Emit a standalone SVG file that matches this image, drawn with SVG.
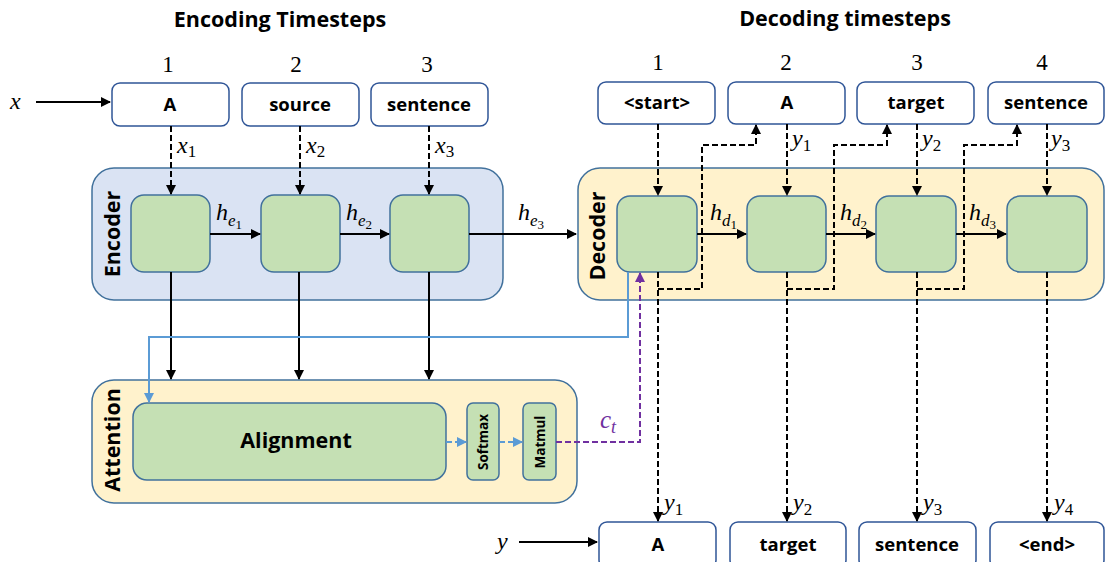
<svg xmlns="http://www.w3.org/2000/svg" width="1105" height="562" viewBox="0 0 1105 562">
  <defs>
    <marker id="ahk" viewBox="0 0 10 10" refX="9" refY="5" markerWidth="10" markerHeight="10" orient="auto" markerUnits="userSpaceOnUse">
      <path d="M0,0 L10,5 L0,10 z" fill="#000"/>
    </marker>
    <marker id="ahb" viewBox="0 0 10 10" refX="9" refY="5" markerWidth="10" markerHeight="10" orient="auto" markerUnits="userSpaceOnUse">
      <path d="M0,0 L10,5 L0,10 z" fill="#5b9bd5"/>
    </marker>
    <marker id="ahp" viewBox="0 0 10 10" refX="9" refY="5" markerWidth="10" markerHeight="10" orient="auto" markerUnits="userSpaceOnUse">
      <path d="M0,0 L10,5 L0,10 z" fill="#7030a0"/>
    </marker>
  </defs>
  <style>
    .title { font-family: "Open Sans", "Liberation Sans", sans-serif; font-weight: bold; font-size: 21.5px; fill: #000; }
    .num { font-family: "Liberation Serif", "DejaVu Serif", serif; font-size: 23px; fill: #000; }
    .tok { fill: #fff; stroke: #2f5597; stroke-width: 1.5; }
    .tokt { font-family: "Open Sans", "Liberation Sans", sans-serif; font-weight: bold; font-size: 18.5px; fill: #000; text-anchor: middle; }
    .enc { fill: #dae3f3; stroke: #41719c; stroke-width: 1.5; }
    .dec { fill: #fff2cc; stroke: #41719c; stroke-width: 1.5; }
    .cell { fill: #c5e0b4; stroke: #41719c; stroke-width: 1.5; }
    .lbl { font-family: "Open Sans", "Liberation Sans", sans-serif; font-weight: bold; font-size: 21.5px; fill: #000; text-anchor: middle; }
    .small { font-family: "Open Sans", "Liberation Sans", sans-serif; font-weight: bold; font-size: 13.5px; fill: #000; text-anchor: middle; }
    .math { font-family: "Liberation Serif", "DejaVu Serif", serif; font-style: italic; font-size: 24px; fill: #000; }
    .sub { font-size: 17px; }
    .subn { font-style: normal; font-size: 17px; }
    .subsub { font-style: normal; font-size: 13px; }
    .solid { fill: none; stroke: #000; stroke-width: 2; }
    .dash { fill: none; stroke: #000; stroke-width: 2; stroke-dasharray: 6 3; }
  </style>

  <!-- headings -->
  <text class="title" x="280" y="27" text-anchor="middle">Encoding Timesteps</text>
  <text class="title" x="845" y="26" text-anchor="middle">Decoding timesteps</text>
  <g class="num" text-anchor="middle">
    <text x="168" y="72">1</text>
    <text x="296" y="72">2</text>
    <text x="427" y="72">3</text>
    <text x="658" y="70">1</text>
    <text x="786" y="70">2</text>
    <text x="917" y="70">3</text>
    <text x="1042" y="70">4</text>
  </g>

  <!-- containers -->
  <g id="encoder">
    <rect class="enc" x="92" y="168" width="411" height="132" rx="22"/>
    <text class="lbl" transform="translate(120,234) rotate(-90)">Encoder</text>
  </g>
  <g id="decoder">
    <rect class="dec" x="578" y="168" width="526" height="132" rx="22"/>
    <text class="lbl" transform="translate(605,236) rotate(-90)">Decoder</text>
  </g>
  <g id="attention">
    <rect class="dec" x="92" y="380" width="485" height="123" rx="22"/>
    <text class="lbl" transform="translate(120,440) rotate(-90)">Attention</text>
  </g>

  <!-- source tokens -->
  <g id="src-1"><rect class="tok" x="112" y="83" width="117" height="43" rx="8"/><text class="tokt" x="170" y="111">A</text></g>
  <g id="src-2"><rect class="tok" x="242" y="83" width="117" height="43" rx="8"/><text class="tokt" x="300" y="111">source</text></g>
  <g id="src-3"><rect class="tok" x="371" y="83" width="117" height="43" rx="8"/><text class="tokt" x="429" y="111">sentence</text></g>

  <!-- decoder input tokens -->
  <g id="din-1"><rect class="tok" x="598" y="82" width="117" height="42" rx="8"/><text class="tokt" x="657" y="109">&lt;start&gt;</text></g>
  <g id="din-2"><rect class="tok" x="728" y="82" width="117" height="42" rx="8"/><text class="tokt" x="787" y="109">A</text></g>
  <g id="din-3"><rect class="tok" x="857" y="82" width="117" height="42" rx="8"/><text class="tokt" x="916" y="109">target</text></g>
  <g id="din-4"><rect class="tok" x="988" y="82" width="116" height="42" rx="8"/><text class="tokt" x="1046" y="109">sentence</text></g>

  <!-- decoder output tokens -->
  <g id="dout-1"><rect class="tok" x="599" y="522" width="117" height="46" rx="8"/><text class="tokt" x="658" y="551">A</text></g>
  <g id="dout-2"><rect class="tok" x="730" y="522" width="116" height="46" rx="8"/><text class="tokt" x="788" y="551">target</text></g>
  <g id="dout-3"><rect class="tok" x="859" y="522" width="117" height="46" rx="8"/><text class="tokt" x="917" y="551">sentence</text></g>
  <g id="dout-4"><rect class="tok" x="990" y="522" width="114" height="46" rx="8"/><text class="tokt" x="1047" y="551">&lt;end&gt;</text></g>

  <!-- encoder cells -->
  <g id="enc-1"><rect class="cell" x="131" y="195" width="79" height="77" rx="13"/></g>
  <g id="enc-2"><rect class="cell" x="261" y="195" width="79" height="77" rx="13"/></g>
  <g id="enc-3"><rect class="cell" x="390" y="195" width="79" height="77" rx="13"/></g>

  <!-- decoder cells -->
  <g id="dec-1"><rect class="cell" x="617" y="196" width="80" height="76" rx="13"/></g>
  <g id="dec-2"><rect class="cell" x="747" y="196" width="79" height="76" rx="13"/></g>
  <g id="dec-3"><rect class="cell" x="876" y="196" width="80" height="76" rx="13"/></g>
  <g id="dec-4"><rect class="cell" x="1007" y="196" width="80" height="76" rx="13"/></g>

  <!-- attention blocks -->
  <g id="alignment"><rect class="cell" x="133" y="403" width="313" height="77" rx="14"/><text class="lbl" x="296" y="448" font-size="22px">Alignment</text></g>
  <g id="softmax"><rect class="cell" x="467" y="403" width="32" height="77" rx="6"/><text class="small" transform="translate(488,442) rotate(-90)">Softmax</text></g>
  <g id="matmul"><rect class="cell" x="523" y="403" width="33" height="77" rx="6"/><text class="small" transform="translate(545,442) rotate(-90)">Matmul</text></g>

  <!-- connectors -->
  <g id="connectors">
    <!-- external inputs -->
    <line class="solid" x1="36" y1="102" x2="110" y2="102" stroke-width="1.5" marker-end="url(#ahk)"/>
    <line class="solid" x1="519" y1="542" x2="597" y2="542" stroke-width="1.5" marker-end="url(#ahk)"/>

    <!-- source token embeddings into encoder -->
    <line class="dash" x1="171" y1="126" x2="171" y2="194" marker-end="url(#ahk)"/>
    <line class="dash" x1="300" y1="126" x2="300" y2="194" marker-end="url(#ahk)"/>
    <line class="dash" x1="429" y1="126" x2="429" y2="194" marker-end="url(#ahk)"/>

    <!-- encoder hidden states -->
    <line class="solid" x1="210" y1="234" x2="260" y2="234" marker-end="url(#ahk)"/>
    <line class="solid" x1="340" y1="234" x2="389" y2="234" marker-end="url(#ahk)"/>
    <line class="solid" x1="469" y1="234" x2="576" y2="234" marker-end="url(#ahk)"/>

    <!-- decoder hidden states -->
    <line class="solid" x1="697" y1="234" x2="746" y2="234" marker-end="url(#ahk)"/>
    <line class="solid" x1="826" y1="234" x2="875" y2="234" marker-end="url(#ahk)"/>
    <line class="solid" x1="956" y1="234" x2="1006" y2="234" marker-end="url(#ahk)"/>

    <!-- decoder inputs -->
    <line class="dash" x1="658" y1="124" x2="658" y2="195" marker-end="url(#ahk)"/>
    <line class="dash" x1="787" y1="124" x2="787" y2="195" marker-end="url(#ahk)"/>
    <line class="dash" x1="917" y1="124" x2="917" y2="195" marker-end="url(#ahk)"/>
    <line class="dash" x1="1047" y1="124" x2="1047" y2="195" marker-end="url(#ahk)"/>

    <!-- decoder outputs fed back as next inputs -->
    <path class="dash" d="M658,289 H702 V145 H756 V125" marker-end="url(#ahk)"/>
    <path class="dash" d="M787,289 H834 V145 H887 V125" marker-end="url(#ahk)"/>
    <path class="dash" d="M917,289 H964 V145 H1017 V125" marker-end="url(#ahk)"/>

    <!-- decoder outputs -->
    <line class="dash" x1="658" y1="272" x2="658" y2="521" marker-end="url(#ahk)"/>
    <line class="dash" x1="787" y1="272" x2="787" y2="521" marker-end="url(#ahk)"/>
    <line class="dash" x1="917" y1="272" x2="917" y2="521" marker-end="url(#ahk)"/>
    <line class="dash" x1="1047" y1="272" x2="1047" y2="521" marker-end="url(#ahk)"/>

    <!-- encoder states into attention -->
    <line class="solid" x1="171" y1="272" x2="171" y2="379" marker-end="url(#ahk)"/>
    <line class="solid" x1="299" y1="272" x2="299" y2="379" marker-end="url(#ahk)"/>
    <line class="solid" x1="429" y1="272" x2="429" y2="379" marker-end="url(#ahk)"/>

    <!-- decoder state query into alignment -->
    <path d="M628,272 V337 H149 V402" fill="none" stroke="#5b9bd5" stroke-width="2" marker-end="url(#ahb)"/>

    <!-- attention pipeline -->
    <line x1="446" y1="442" x2="466" y2="442" stroke="#5b9bd5" stroke-width="2" stroke-dasharray="6 3" marker-end="url(#ahb)"/>
    <line x1="499" y1="442" x2="522" y2="442" stroke="#5b9bd5" stroke-width="2" stroke-dasharray="6 3" marker-end="url(#ahb)"/>

    <!-- context vector back to decoder -->
    <path d="M556,442 H640 V273" fill="none" stroke="#7030a0" stroke-width="2" stroke-dasharray="6 3" marker-end="url(#ahp)"/>
  </g>

  <!-- math labels -->
  <g class="math">
    <text x="10" y="109">x</text>
    <text x="497" y="549">y</text>

    <text x="177" y="153">x<tspan class="subn" dy="4">1</tspan></text>
    <text x="306" y="153">x<tspan class="subn" dy="4">2</tspan></text>
    <text x="435" y="153">x<tspan class="subn" dy="4">3</tspan></text>

    <text x="216" y="220">h<tspan class="sub" dy="6">e</tspan><tspan class="subsub" dy="3">1</tspan></text>
    <text x="346" y="220">h<tspan class="sub" dy="6">e</tspan><tspan class="subsub" dy="3">2</tspan></text>
    <text x="518" y="220">h<tspan class="sub" dy="6">e</tspan><tspan class="subsub" dy="3">3</tspan></text>

    <text x="710" y="220">h<tspan class="sub" dy="6">d</tspan><tspan class="subsub" dy="3">1</tspan></text>
    <text x="840" y="220">h<tspan class="sub" dy="6">d</tspan><tspan class="subsub" dy="3">2</tspan></text>
    <text x="969" y="220">h<tspan class="sub" dy="6">d</tspan><tspan class="subsub" dy="3">3</tspan></text>

    <text x="792" y="146">y<tspan class="subn" dy="5">1</tspan></text>
    <text x="922" y="146">y<tspan class="subn" dy="5">2</tspan></text>
    <text x="1051" y="146">y<tspan class="subn" dy="5">3</tspan></text>

    <text x="664" y="510">y<tspan class="subn" dy="5">1</tspan></text>
    <text x="793" y="510">y<tspan class="subn" dy="5">2</tspan></text>
    <text x="923" y="510">y<tspan class="subn" dy="5">3</tspan></text>
    <text x="1054" y="510">y<tspan class="subn" dy="5">4</tspan></text>

    <text x="600" y="428" fill="#7030a0" font-size="25">c<tspan dy="5" style="font-size:18px;font-style:italic">t</tspan></text>
  </g>
</svg>
